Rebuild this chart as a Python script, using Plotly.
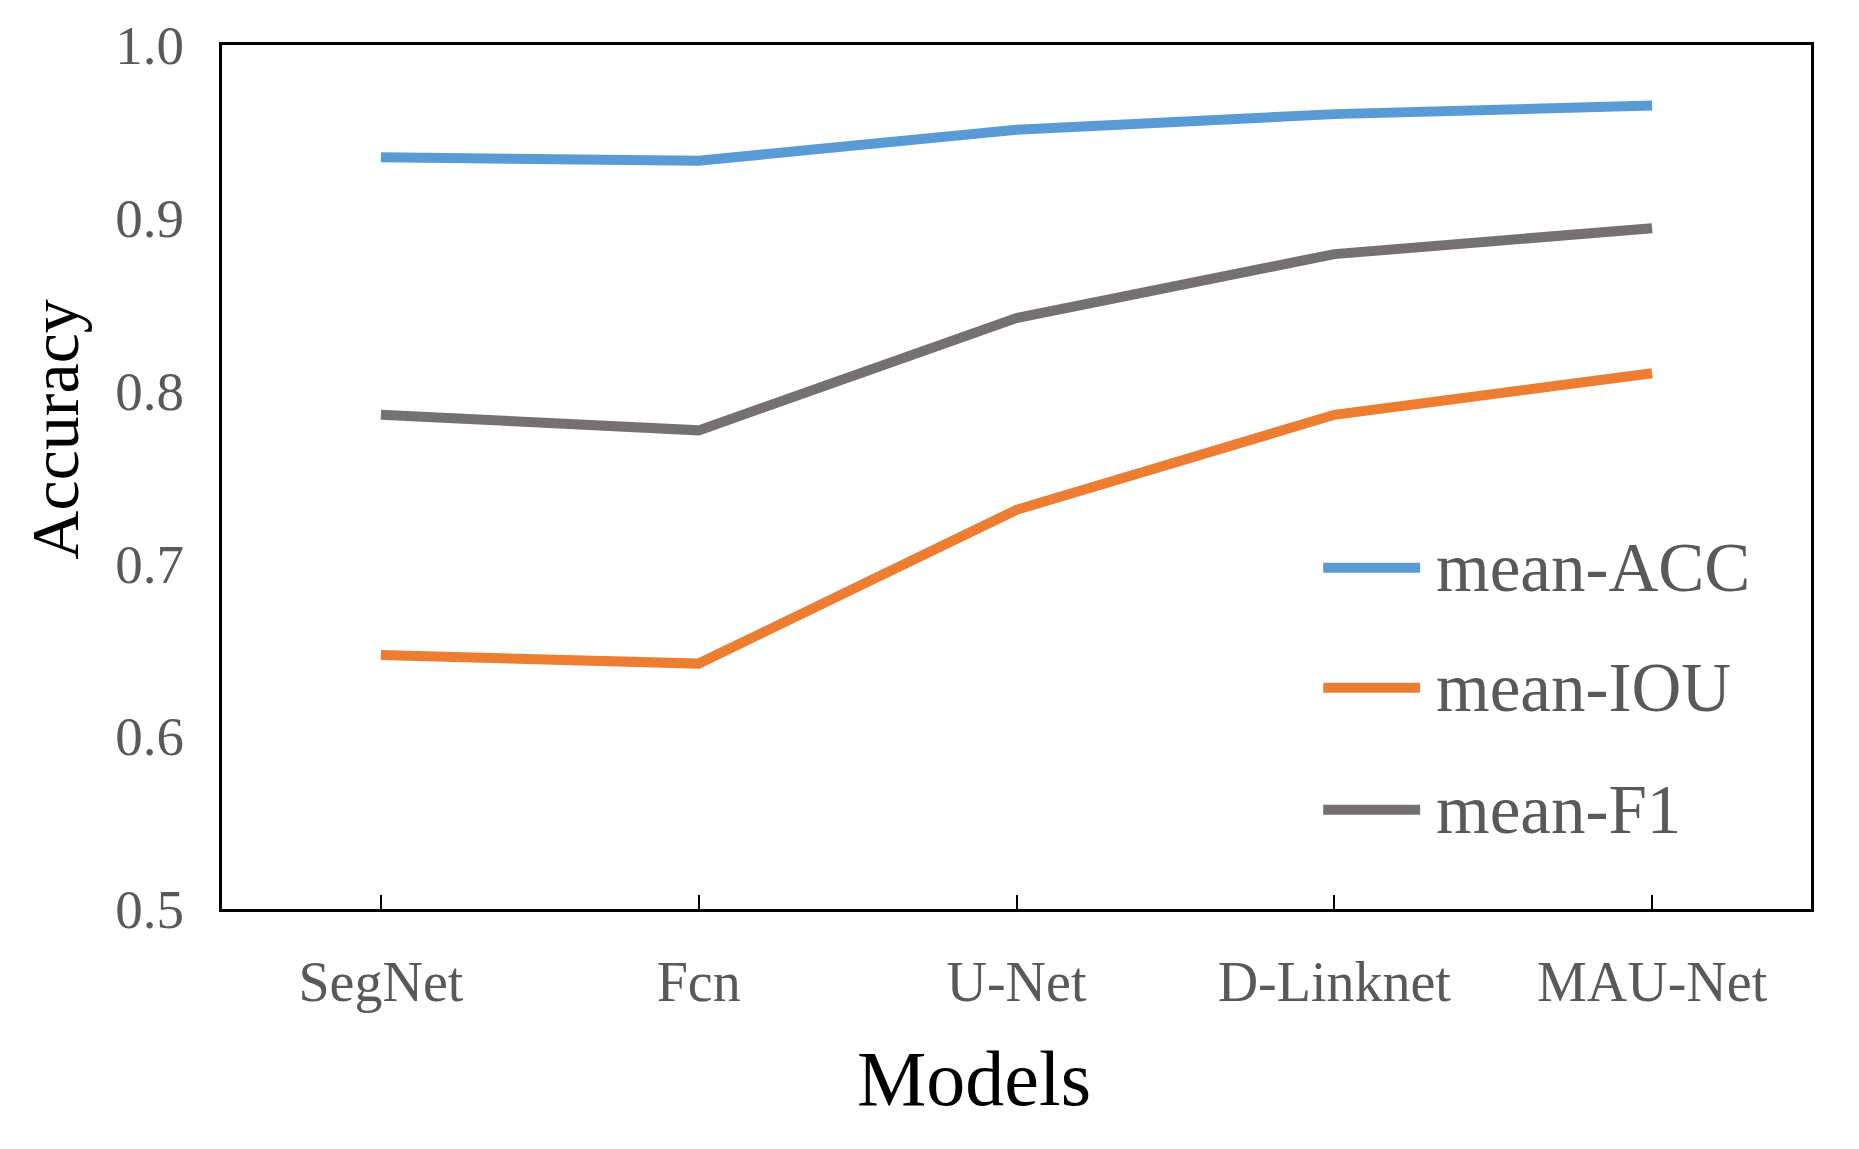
import plotly.graph_objects as go

models = ["SegNet", "Fcn", "U-Net", "D-Linknet", "MAU-Net"]
series_names = ["mean-ACC", "mean-IOU", "mean-F1"]
mean_acc = [0.935, 0.933, 0.951, 0.960, 0.965]
mean_iou = [0.647, 0.642, 0.731, 0.786, 0.810]
mean_f1 = [0.786, 0.777, 0.842, 0.879, 0.894]
y_ticks = [0.5, 0.6, 0.7, 0.8, 0.9, 1.0]
colors = ["#5B9BD5", "#ED7D31", "#767171"]

series_values = [mean_acc, mean_iou, mean_f1]
FONT = "Liberation Serif"

fig = go.Figure()
for name, vals, col in zip(series_names, series_values, colors):
    fig.add_trace(go.Scatter(
        x=models, y=vals, mode="lines", name=name,
        line=dict(color=col, width=10), showlegend=False,
    ))

# custom legend (long line keys)
leg_x0, leg_x1, leg_tx = 0.693, 0.754, 0.763
leg_y = [0.395, 0.256, 0.115]
for name, col, yy in zip(series_names, colors, leg_y):
    fig.add_shape(type="line", xref="paper", yref="paper",
                  x0=leg_x0, x1=leg_x1, y0=yy, y1=yy,
                  line=dict(color=col, width=10))
    fig.add_annotation(xref="paper", yref="paper", x=leg_tx, y=yy,
                       text=name, showarrow=False, xanchor="left",
                       yanchor="middle",
                       font=dict(family=FONT, size=69, color="#595959"))

fig.add_annotation(xref="paper", yref="paper", x=0.473, y=-0.196,
                   text="Models", showarrow=False, xanchor="center",
                   yanchor="middle", font=dict(family=FONT, size=78, color="black"))
fig.add_annotation(xref="paper", yref="paper", x=-0.105, y=0.555,
                   text="Accuracy", showarrow=False, textangle=-90,
                   xanchor="center", yanchor="middle",
                   font=dict(family=FONT, size=68, color="black"))

fig.update_layout(
    width=1859, height=1149,
    margin=dict(l=214, r=56, t=37, b=248),
    paper_bgcolor="white", plot_bgcolor="white",
    font=dict(family=FONT, color="#595959"),
)
fig.update_xaxes(
    type="category", range=[-0.5, 4.5], automargin=False,
    showline=True, linecolor="black", linewidth=3, mirror=True,
    ticks="inside", ticklen=14, tickwidth=2, tickcolor="black",
    tickfont=dict(family=FONT, size=56, color="#595959"),
    ticklabelstandoff=22, showgrid=False, zeroline=False,
)
fig.update_yaxes(
    range=[0.5, 1.0], tickvals=y_ticks, tickformat=".1f", automargin=False,
    showline=True, linecolor="black", linewidth=3, mirror=True,
    ticks="", tickfont=dict(family=FONT, size=55, color="#595959"),
    ticklabelstandoff=24, showgrid=False, zeroline=False,
)

fig.write_html("out.html")
